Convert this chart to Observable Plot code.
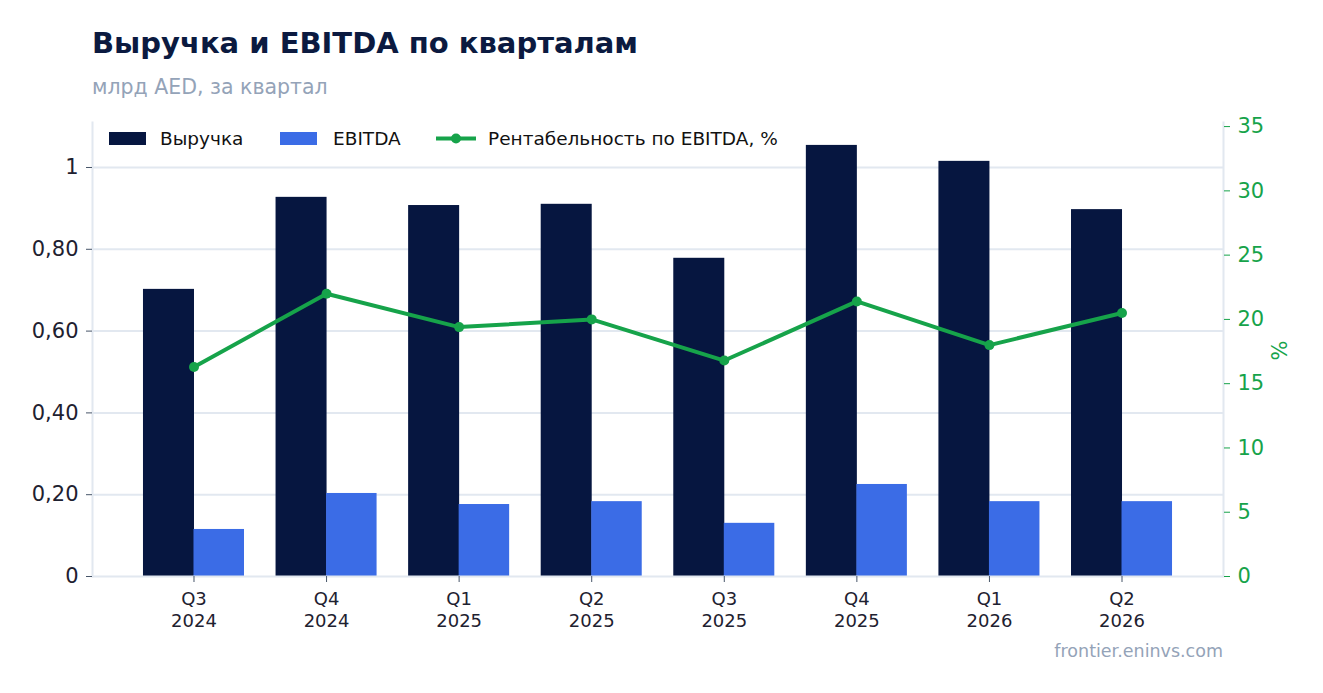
<!DOCTYPE html>
<html><head><meta charset="utf-8">
<script src="https://cdn.jsdelivr.net/npm/d3@7"></script>
<script src="https://cdn.jsdelivr.net/npm/@observablehq/plot@0.6"></script>
<style>
body{margin:0;background:#fff;font-family:"DejaVu Sans",sans-serif;}
#wrap{position:relative;width:1323px;height:693px;overflow:hidden;background:#fff}
.abs{position:absolute;white-space:nowrap;line-height:1}
#title{left:92px;top:29px;font-size:29px;font-weight:bold;color:#0b1a40}
#subtitle{left:92px;top:77px;font-size:20.5px;color:#94a3b8}
#source{right:100px;top:643px;font-size:17.5px;color:#94a3b8}
#pct{left:1271px;top:340px;font-size:21px;color:#16a34a;transform:rotate(-90deg);transform-origin:center}
.lg{position:absolute;font-size:18.5px;color:#111;line-height:1;white-space:nowrap}
.sw{position:absolute;width:37px;height:13px}
#chart{position:absolute;left:0;top:100px}
</style></head><body><div id="wrap">
<div id="title" class="abs">Выручка и EBITDA по кварталам</div>
<div id="subtitle" class="abs">млрд AED, за квартал</div>
<div id="chart"></div>
<span class="sw" style="left:109px;top:132px;background:#061640"></span>
<span class="lg" style="left:160px;top:130px">Выручка</span>
<span class="sw" style="left:280px;top:132px;background:#3b6ce6"></span>
<span class="lg" style="left:333px;top:130px">EBITDA</span>
<svg width="40" height="14" style="position:absolute;left:436px;top:132px"><line x1="0" y1="6.5" x2="40" y2="6.5" stroke="#16a34a" stroke-width="4"/><circle cx="20" cy="6.5" r="5" fill="#16a34a"/></svg>
<span class="lg" style="left:488px;top:130px">Рентабельность по EBITDA, %</span>
<div id="pct" class="abs">%</div>
<div id="source" class="abs">frontier.eninvs.com</div>
</div>
<script>
const quarters = ["Q3 2024","Q4 2024","Q1 2025","Q2 2025","Q3 2025","Q4 2025","Q1 2026","Q2 2026"];
const revenue = [0.702,0.927,0.907,0.910,0.778,1.054,1.015,0.897];
const ebitda = [0.115,0.203,0.176,0.183,0.130,0.225,0.183,0.183];
const margin = [16.3,22.0,19.4,20.0,16.8,21.4,18.0,20.5];
const leftTicks = [0,0.2,0.4,0.6,0.8,1];
const leftTickLabels = ["0","0,20","0,40","0,60","0,80","1"];
const rightTicks = [0,5,10,15,20,25,30,35];

const data = quarters.map((q,i)=>({q, rev:revenue[i], ebitda:ebitda[i], m:margin[i]}));
const leftMax = 1.11, rightTop = 35, k = 1.1/rightTop;
const W = 1323, ML = 92, MR = 100;
const pi = 0.238, po = 0.3845;
const step = (W-ML-MR)/(quarters.length - pi + 2*po);
const bw = step*(1-pi);

const chart = Plot.plot({
  width: W, height: 593,
  marginLeft: ML, marginRight: MR, marginTop: 22, marginBottom: 117,
  style:{fontFamily:"DejaVu Sans, sans-serif", background:"#fff"},
  x:{type:"band", domain: quarters, paddingInner: pi, paddingOuter: po, align:0.5, round:false},
  y:{domain:[0, leftMax]},
  marks:[
    Plot.gridY({ticks: leftTicks.filter(t=>t>0), stroke:"#e2e8f0", strokeOpacity:1, strokeWidth:2}),
    Plot.frame({anchor:"left", stroke:"#e2e8f0", strokeWidth:2}),
    Plot.frame({anchor:"right", stroke:"#e2e8f0", strokeWidth:2}),
    Plot.barY(data, {x:"q", y:"rev", fill:"#061640", insetRight: bw/2 - 0.5}),
    Plot.barY(data, {x:"q", y:"ebitda", fill:"#3b6ce6", insetLeft: bw/2}),
    Plot.ruleY([0], {stroke:"#e2e8f0", strokeWidth:2}),
    Plot.line(data, {x:"q", y: d=>d.m*k, stroke:"#16a34a", strokeWidth:4}),
    Plot.dot(data, {x:"q", y: d=>d.m*k, r:5, fill:"#16a34a"}),
    Plot.axisY({anchor:"left", ticks: leftTicks, tickFormat: v=>leftTickLabels[leftTicks.indexOf(v)], tickSize:6, tickPadding:8, fontSize:21, stroke:"#475569", fill:"#1e2130", label:null}),
    Plot.axisY({anchor:"right", ticks: rightTicks.map(t=>t*k), tickFormat: v=>String(Math.round(v/k)), tickSize:6, tickPadding:8, fontSize:21, stroke:"#16a34a", fill:"#16a34a", label:null}),
    Plot.axisX({tickSize:6, tickPadding:8, fontSize:18, lineHeight:1.17, stroke:"#475569", fill:"#1e2130", tickFormat: q=>q.replace(" ","\n"), label:null})
  ]
});
document.getElementById("chart").appendChild(chart);
</script>
</body></html>
